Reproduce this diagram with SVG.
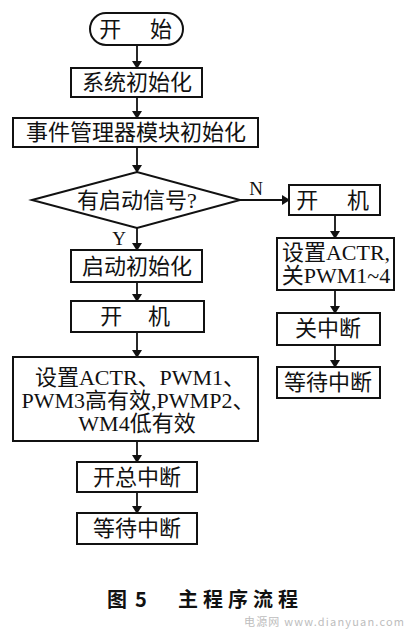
<svg xmlns="http://www.w3.org/2000/svg" width="409" height="630" viewBox="0 0 409 630">
<defs>
<marker id="ah" markerWidth="8" markerHeight="10" refX="7" refY="5" orient="auto" markerUnits="userSpaceOnUse">
<path d="M0,0 L8,5 L0,10 Z" fill="#111"/>
</marker>
<style>
.b{fill:#fff;stroke:#111;stroke-width:2}
.t{font-family:"Liberation Serif","Noto Sans CJK SC",serif;font-size:22px;fill:#111;text-anchor:middle}
.c{stroke:#111;stroke-width:1.8;fill:none;marker-end:url(#ah)}
.l{font-family:"Liberation Serif",serif;font-size:19px;fill:#111;text-anchor:middle}
</style>
</defs>
<rect width="409" height="630" fill="#fff"/>
<g id="connectors">
<line class="c" x1="137" y1="45" x2="137" y2="68"/>
<line class="c" x1="137" y1="97" x2="137" y2="118"/>
<line class="c" x1="137" y1="147" x2="137" y2="172"/>
<line class="c" x1="137" y1="228" x2="137" y2="250"/>
<line class="c" x1="137" y1="282" x2="137" y2="301"/>
<line class="c" x1="137" y1="332" x2="137" y2="357"/>
<line class="c" x1="137" y1="441" x2="137" y2="462"/>
<line class="c" x1="137" y1="492" x2="137" y2="513"/>
<line class="c" x1="240" y1="200" x2="289" y2="200"/>
<line class="c" x1="335" y1="215" x2="335" y2="238"/>
<line class="c" x1="335" y1="290" x2="335" y2="313"/>
<line class="c" x1="335" y1="345" x2="335" y2="367"/>
<text class="l" x="256" y="195">N</text>
<text class="l" x="119" y="245">Y</text>
</g>
<g id="start">
<rect class="b" x="90" y="13" width="93" height="32" rx="16"/>
<text class="t" y="37"><tspan x="113">开</tspan> <tspan x="161">始</tspan></text>
</g>
<g id="sysinit">
<rect class="b" x="71" y="68" width="131" height="29"/>
<text class="t" x="137" y="90">系统初始化</text>
</g>
<g id="evinit">
<rect class="b" x="13" y="118" width="245" height="29"/>
<text class="t" x="136" y="140">事件管理器模块初始化</text>
</g>
<g id="decision">
<polygon class="b" points="32,200 137,172 240,200 137,228"/>
<text class="t" x="137" y="208">有启动信号?</text>
</g>
<g id="startinit">
<rect class="b" x="71" y="250" width="131" height="32"/>
<text class="t" x="137" y="274">启动初始化</text>
</g>
<g id="poweron-left">
<rect class="b" x="71" y="301" width="133" height="31"/>
<text class="t" y="324"><tspan x="114">开</tspan> <tspan x="159">机</tspan></text>
</g>
<g id="setactr-left">
<rect class="b" x="13" y="357" width="245" height="84"/>
<text class="t" x="140" y="385">设置ACTR、PWM1、</text>
<text class="t" x="138" y="408">PWM3高有效,PWMP2、</text>
<text class="t" x="137" y="431">WM4低有效</text>
</g>
<g id="enable-int">
<rect class="b" x="77" y="462" width="120" height="30"/>
<text class="t" x="137" y="485">开总中断</text>
</g>
<g id="wait-left">
<rect class="b" x="77" y="513" width="120" height="31"/>
<text class="t" x="137" y="536">等待中断</text>
</g>
<g id="poweron-right">
<rect class="b" x="289" y="185" width="91" height="30"/>
<text class="t" y="208"><tspan x="310">开</tspan> <tspan x="358">机</tspan></text>
</g>
<g id="setactr-right">
<rect class="b" x="277" y="238" width="117" height="52"/>
<text class="t" x="336" y="260">设置ACTR,</text>
<text class="t" x="336" y="283">关PWM1~4</text>
</g>
<g id="disable-int">
<rect class="b" x="277" y="313" width="103" height="32"/>
<text class="t" x="328" y="336">关中断</text>
</g>
<g id="wait-right">
<rect class="b" x="277" y="367" width="103" height="31"/>
<text class="t" x="328" y="390">等待中断</text>
</g>
<text y="607" font-family="'Noto Sans CJK SC',sans-serif" font-size="20" font-weight="bold" fill="#111"><tspan x="107">图</tspan> <tspan x="135">5</tspan> <tspan x="178" letter-spacing="5">主程序流程</tspan></text>
<text x="244" y="626" font-family="'Noto Sans CJK SC',sans-serif" font-size="11" fill="#bdbdbd" textLength="160" lengthAdjust="spacing">电源网 www.dianyuan.com</text>
</svg>
